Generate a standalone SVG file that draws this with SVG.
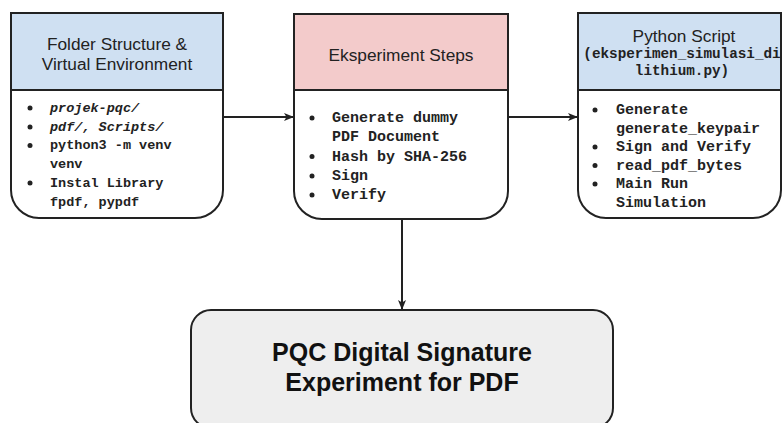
<svg xmlns="http://www.w3.org/2000/svg" width="782" height="423" viewBox="0 0 782 423">
<defs>
<style>
.hd{font-family:"Liberation Sans",Arial,sans-serif;font-size:17.3px;fill:#222;text-anchor:middle}
.mono{font-family:"Liberation Mono","Courier New",monospace;font-weight:bold;fill:#222}
.ln{stroke:#222;stroke-width:2;fill:none}
.box{stroke:#222;stroke-width:2}
.big{font-family:"Liberation Sans",Arial,sans-serif;font-weight:bold;font-size:25px;fill:#111;text-anchor:middle}
</style>
<marker id="ah" viewBox="0 0 10 10" refX="9" refY="5" markerWidth="10" markerHeight="10" markerUnits="userSpaceOnUse" orient="auto">
<path d="M0,1 L10,5 L0,9 L2.5,5 Z" fill="#222"/>
</marker>
</defs>
<rect width="782" height="423" fill="#fff"/>
<g id="connectors">
<line class="ln" x1="223" y1="117" x2="293" y2="117" marker-end="url(#ah)"/>
<line class="ln" x1="508" y1="117" x2="577" y2="117" marker-end="url(#ah)"/>
<line class="ln" x1="402" y1="219" x2="402" y2="309" marker-end="url(#ah)"/>
</g>
<g id="folder">
<path d="M11,90 H223 V190 A28,28 0 0 1 195,218 H39 A28,28 0 0 1 11,190 Z" fill="#fff"/>
<rect x="11" y="13" width="212" height="77" fill="#cfe0f2"/>
<path class="box" fill="none" d="M11,13 H223 V190 A28,28 0 0 1 195,218 H39 A28,28 0 0 1 11,190 Z M11,90 H223"/>
<text class="hd" x="117" y="50">Folder Structure &amp;</text>
<text class="hd" x="117" y="70">Virtual Environment</text>
<g fill="#222"><circle cx="30" cy="108" r="2.5"/><circle cx="30" cy="127" r="2.5"/><circle cx="30" cy="145.5" r="2.5"/><circle cx="30" cy="183" r="2.5"/></g>
<g class="mono" font-size="13.5px">
<text x="50" y="112" font-style="italic">projek-pqc/</text>
<text x="50" y="130.7" font-style="italic">pdf/, Scripts/</text>
<text x="50" y="149.4">python3 -m venv</text>
<text x="50" y="168">venv</text>
<text x="50" y="186.8">Instal Library</text>
<text x="50" y="205.5">fpdf, pypdf</text>
</g>
</g>
<g id="steps">
<path d="M294,90 H508 V191 A28,28 0 0 1 480,219 H322 A28,28 0 0 1 294,191 Z" fill="#fff"/>
<rect x="294" y="14" width="214" height="76" fill="#f3cbcb"/>
<path class="box" fill="none" d="M294,14 H508 V191 A28,28 0 0 1 480,219 H322 A28,28 0 0 1 294,191 Z M294,90 H508"/>
<text class="hd" x="401" y="61">Eksperiment Steps</text>
<g fill="#222"><circle cx="312" cy="118" r="2.5"/><circle cx="312" cy="156.5" r="2.5"/><circle cx="312" cy="176" r="2.5"/><circle cx="312" cy="195" r="2.5"/></g>
<g class="mono" font-size="15px">
<text x="332" y="122">Generate dummy</text>
<text x="332" y="141">PDF Document</text>
<text x="332" y="160.5">Hash by SHA-256</text>
<text x="332" y="180">Sign</text>
<text x="332" y="199">Verify</text>
</g>
</g>
<g id="script">
<path d="M578,90 H781 V190 A28,28 0 0 1 753,218 H606 A28,28 0 0 1 578,190 Z" fill="#fff"/>
<rect x="578" y="13" width="203" height="77" fill="#cfe0f2"/>
<path class="box" fill="none" d="M578,13 H781 V190 A28,28 0 0 1 753,218 H606 A28,28 0 0 1 578,190 Z M578,90 H781"/>
<text class="hd" x="684" y="42">Python Script</text>
<text class="mono" font-size="14.3px" x="682" y="57.5" text-anchor="middle">(eksperimen_simulasi_di</text>
<text class="mono" font-size="14.3px" x="682" y="74.5" text-anchor="middle">lithium.py)</text>
<g fill="#222"><circle cx="595" cy="110" r="2.5"/><circle cx="595" cy="147" r="2.5"/><circle cx="595" cy="165.5" r="2.5"/><circle cx="595" cy="184" r="2.5"/></g>
<g class="mono" font-size="15px">
<text x="616" y="114">Generate</text>
<text x="616" y="132.5">generate_keypair</text>
<text x="616" y="151">Sign and Verify</text>
<text x="616" y="169.5">read_pdf_bytes</text>
<text x="616" y="188">Main Run</text>
<text x="616" y="206.5">Simulation</text>
</g>
</g>
<g id="result">
<rect class="box" x="191" y="310" width="422" height="118" rx="20" fill="#eeeeee"/>
<text class="big" x="402" y="361">PQC Digital Signature</text>
<text class="big" x="402" y="391">Experiment for PDF</text>
</g>
</svg>
